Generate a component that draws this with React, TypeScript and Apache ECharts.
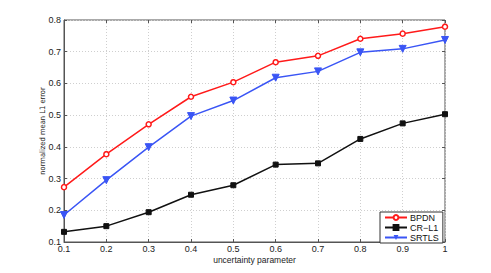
import React, { useEffect, useRef } from "react";
import * as echarts from "echarts";

const categories = ["0.1", "0.2", "0.3", "0.4", "0.5", "0.6", "0.7", "0.8", "0.9", "1"];
const bpdn = [0.273, 0.377, 0.471, 0.558, 0.604, 0.667, 0.687, 0.741, 0.757, 0.779];
const crl1 = [0.132, 0.15, 0.194, 0.249, 0.279, 0.344, 0.348, 0.425, 0.474, 0.503];
const srtls = [0.185, 0.295, 0.399, 0.497, 0.546, 0.618, 0.638, 0.698, 0.709, 0.737];

const FONT = "Liberation Sans, Arial, sans-serif";

export default function App() {
  const ref = useRef<HTMLDivElement>(null);
  useEffect(() => {
    if (!ref.current) return;
    const chart = echarts.init(ref.current, undefined, { renderer: "svg" });
    const axisText = { color: "#222", fontSize: 9, fontFamily: FONT };
    chart.setOption({
      animation: false,
      backgroundColor: "#fff",
      grid: {
        left: 64,
        top: 20,
        right: 46,
        bottom: 31,
        show: true,
        borderColor: "#555",
        borderWidth: 1,
        backgroundColor: "transparent",
      },
      legend: {
        orient: "vertical",
        left: 380,
        top: 212,
        width: 61,
        itemWidth: 22,
        itemHeight: 6,
        itemGap: 1,
        padding: [1, 4, 1, 4],
        borderColor: "#333",
        borderWidth: 1,
        backgroundColor: "#fff",
        textStyle: { fontSize: 9, fontFamily: FONT, color: "#111", padding: [0, 0, 0, -2] },
        data: ["BPDN", "CR\u2212L1", "SRTLS"],
      },
      xAxis: [
        {
          type: "category",
          data: categories,
          boundaryGap: false,
          name: "uncertainty parameter",
          nameLocation: "middle",
          nameGap: 13,
          nameMoveOverlap: false,
          nameTextStyle: { color: "#222", fontSize: 8.5, fontFamily: FONT },
          axisLine: { show: true, lineStyle: { color: "#555", width: 1 } },
          axisTick: { show: true, inside: true, length: 3, lineStyle: { color: "#555" }, alignWithLabel: true },
          axisLabel: { ...axisText, margin: 2 },
          splitLine: { show: true, lineStyle: { color: "#cfcfcf", type: [1, 2], width: 1 } },
        },
        {
          type: "category",
          data: categories,
          boundaryGap: false,
          position: "top",
          axisLine: { show: false },
          axisTick: { show: true, inside: true, length: 3, lineStyle: { color: "#555" } },
          axisLabel: { show: false },
          splitLine: { show: false },
        },
      ],
      yAxis: [
        {
          type: "value",
          min: 0.1,
          max: 0.8,
          interval: 0.1,
          name: "normalized mean L1 error",
          nameLocation: "middle",
          nameGap: 18,
          nameMoveOverlap: false,
          nameTextStyle: { color: "#222", fontSize: 7.5, fontFamily: "Liberation Sans Narrow, DejaVu Sans Condensed, sans-serif" },
          axisLine: { show: true, lineStyle: { color: "#555", width: 1 } },
          axisTick: { show: true, inside: true, length: 3, lineStyle: { color: "#555" } },
          axisLabel: { ...axisText, margin: 3, formatter: (v: number) => v.toFixed(1) },
          splitLine: { show: true, lineStyle: { color: "#cfcfcf", type: [1, 2], width: 1 } },
        },
        {
          type: "value",
          min: 0.1,
          max: 0.8,
          interval: 0.1,
          position: "right",
          axisLine: { show: false },
          axisTick: { show: true, inside: true, length: 3, lineStyle: { color: "#555" } },
          axisLabel: { show: false },
          splitLine: { show: false },
        },
      ],
      series: [
        {
          name: "BPDN",
          type: "line",
          data: bpdn,
          symbol: "circle",
          symbolSize: 5,
          lineStyle: { color: "#ff1a1a", width: 1.5 },
          itemStyle: { color: "#ffffff", borderColor: "#ff1a1a", borderWidth: 1.5 },
        },
        {
          name: "CR\u2212L1",
          type: "line",
          data: crl1,
          symbol: "rect",
          symbolSize: 5,
          lineStyle: { color: "#111", width: 1.5 },
          itemStyle: { color: "#111", borderColor: "#111", borderWidth: 1 },
        },
        {
          name: "SRTLS",
          type: "line",
          data: srtls,
          symbol: "triangle",
          symbolRotate: 180,
          symbolSize: 7,
          lineStyle: { color: "#3a55f5", width: 1.5 },
          itemStyle: { color: "#3a55f5", borderColor: "#3a55f5" },
        },
      ],
    });
    return () => chart.dispose();
  }, []);
  return <div ref={ref} style={{ width: 491, height: 273, position: "absolute", left: 0, top: 0 }} />;
}
